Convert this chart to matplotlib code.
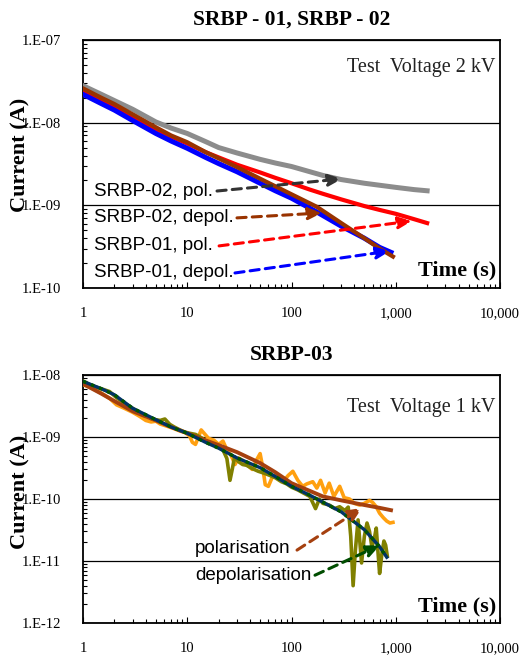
import matplotlib
matplotlib.use("Agg")
import matplotlib.pyplot as plt
import numpy as np

# ---------------- data ----------------
# Top panel (SRBP-01, SRBP-02), test voltage 2 kV
t_gray = [1, 1.5, 2, 3, 5, 7, 10, 15, 20, 30, 50, 70, 100, 150, 200, 300, 500, 700, 1000, 1500, 2000]
i_gray = [2.8e-8, 2.2e-8, 1.85e-8, 1.45e-8, 1.02e-8, 8.6e-9, 7.4e-9, 5.9e-9, 5.0e-9, 4.3e-9, 3.6e-9,
          3.25e-9, 2.95e-9, 2.55e-9, 2.3e-9, 2.05e-9, 1.85e-9, 1.75e-9, 1.65e-9, 1.55e-9, 1.5e-9]

t_red = [1, 1.5, 2, 3, 5, 7, 10, 15, 20, 30, 50, 70, 100, 150, 200, 300, 500, 700, 1000, 1500, 2000]
i_red = [2.4e-8, 1.9e-8, 1.6e-8, 1.2e-8, 8.4e-9, 6.8e-9, 5.6e-9, 4.4e-9, 3.8e-9, 3.1e-9, 2.5e-9,
         2.15e-9, 1.85e-9, 1.55e-9, 1.38e-9, 1.18e-9, 9.8e-10, 8.8e-10, 7.9e-10, 6.8e-10, 6.1e-10]

t_blue = [1, 1.5, 2, 3, 5, 7, 10, 15, 20, 30, 50, 70, 100, 175, 300, 500, 700, 900]
i_blue = [2.2e-8, 1.7e-8, 1.42e-8, 1.06e-8, 7.4e-9, 6.0e-9, 4.9e-9, 3.8e-9, 3.2e-9, 2.55e-9, 1.85e-9,
          1.5e-9, 1.22e-9, 8.3e-10, 5.6e-10, 4.0e-10, 3.1e-10, 2.7e-10]

t_brown = [1, 1.5, 2, 3, 5, 7, 10, 15, 20, 30, 50, 70, 100, 175, 300, 500, 700, 940]
i_brown = [2.6e-8, 2.0e-8, 1.68e-8, 1.26e-8, 8.8e-9, 7.0e-9, 5.8e-9, 4.4e-9, 3.7e-9, 2.9e-9, 2.1e-9,
           1.7e-9, 1.36e-9, 9.6e-10, 6.1e-10, 4.0e-10, 3.0e-10, 2.4e-10]

top_labels = ["SRBP-02, pol.", "SRBP-02, depol.", "SRBP-01, pol.", "SRBP-01, depol."]

# Bottom panel (SRBP-03), test voltage 1 kV
t_pol_fit = [1, 1.5, 2, 3, 5, 7, 10, 15, 20, 30, 50, 70, 100, 150, 200, 300, 500, 700, 900]
i_pol_fit = [7.2e-9, 5.0e-9, 3.8e-9, 2.6e-9, 1.85e-9, 1.45e-9, 1.15e-9, 8.8e-10, 7.4e-10, 5.7e-10,
             3.8e-10, 2.7e-10, 1.8e-10, 1.35e-10, 1.1e-10, 9.5e-11, 8.0e-11, 7.2e-11, 6.6e-11]

t_depol_fit = [1, 1.5, 2, 3, 5, 7, 10, 15, 20, 30, 50, 70, 100, 150, 200, 300, 500, 700, 820]
i_depol_fit = [7.9e-9, 6.0e-9, 4.8e-9, 2.9e-9, 1.9e-9, 1.45e-9, 1.15e-9, 8.2e-10, 6.6e-10, 4.6e-10,
               3.2e-10, 2.3e-10, 1.6e-10, 1.15e-10, 8.9e-11, 6.2e-11, 3.2e-11, 1.7e-11, 1.15e-11]

t_pol_meas = [1, 1.2, 1.5, 1.8, 2.1, 2.5, 3, 3.5, 4, 4.5, 5, 5.5, 6.5, 7.5, 8.5, 9.5, 10.5, 11.2, 12,
              12.8, 13.6, 14.5, 16, 18, 20, 22, 24, 25.7, 27, 28.7, 31, 34, 38, 42, 46, 50, 53, 56,
              60, 65, 70, 78, 85, 93, 103, 115, 128, 140, 160, 175, 190, 210, 230, 255, 290, 320,
              360, 400, 450, 500, 560, 600, 650, 700, 760, 820, 880, 940]
i_pol_meas = [7.0e-9, 6.2e-9, 5.1e-9, 4.2e-9, 3.3e-9, 2.9e-9, 2.5e-9, 2.15e-9, 1.85e-9, 1.75e-9,
              1.8e-9, 1.62e-9, 1.48e-9, 1.36e-9, 1.25e-9, 1.18e-9, 1.05e-9, 8.2e-10, 7.6e-10,
              1.0e-9, 1.3e-9, 1.15e-9, 9.5e-10, 8.9e-10, 7.6e-10, 8.6e-10, 6.2e-10, 5.4e-10,
              4.6e-10, 3.6e-10, 4.6e-10, 4.2e-10, 3.5e-10, 3.0e-10, 4.2e-10, 5.4e-10, 3.2e-10,
              1.7e-10, 1.6e-10, 2.2e-10, 2.4e-10, 2.2e-10, 2.0e-10, 2.4e-10, 2.8e-10, 2.0e-10,
              1.6e-10, 1.75e-10, 1.9e-10, 1.5e-10, 2.0e-10, 1.25e-10, 1.8e-10, 1.1e-10, 1.6e-10,
              1.05e-10, 1.0e-10, 8.5e-11, 8.0e-11, 8.5e-11, 9.5e-11, 8.8e-11, 7.5e-11, 5.9e-11,
              5.0e-11, 4.4e-11, 4.1e-11, 4.2e-11]

t_depol_meas = [1, 1.2, 1.5, 1.8, 2.1, 2.5, 3, 3.5, 4, 4.5, 5, 5.5, 6.1, 6.8, 7.5, 8.5, 9.5, 10.5,
                12, 14, 16, 18, 20, 22, 24, 25.7, 27, 28.5, 31, 34, 37, 42, 48, 55, 62, 70, 80,
                90, 100, 115, 130, 150, 170, 185, 200, 230, 260, 290, 325, 350, 370, 390, 410,
                435, 470, 500, 530, 560, 590, 620, 650, 680, 700, 740, 770, 800, 830]
i_depol_meas = [8.0e-9, 6.8e-9, 6.0e-9, 5.4e-9, 4.3e-9, 3.5e-9, 2.9e-9, 2.5e-9, 2.2e-9, 2.0e-9,
                1.9e-9, 1.85e-9, 1.95e-9, 1.6e-9, 1.45e-9, 1.3e-9, 1.2e-9, 1.15e-9, 1.1e-9,
                9.5e-10, 8.2e-10, 7.4e-10, 6.8e-10, 6.2e-10, 4.5e-10, 2.0e-10, 3.0e-10, 4.8e-10,
                4.0e-10, 3.6e-10, 3.5e-10, 3.1e-10, 2.8e-10, 2.6e-10, 2.4e-10, 2.2e-10, 1.9e-10,
                1.75e-10, 1.55e-10, 1.4e-10, 1.25e-10, 1.1e-10, 7.0e-11, 1.0e-10, 8.5e-11,
                8.0e-11, 7.0e-11, 7.5e-11, 6.5e-11, 7.4e-11, 2.5e-11, 4.0e-12, 1.5e-11, 4.6e-11,
                9.3e-12, 2.5e-11, 4.1e-11, 3.0e-11, 1.7e-11, 2.2e-11, 3.4e-11, 1.2e-11, 6.3e-12,
                1.4e-11, 2.1e-11, 1.8e-11, 1.2e-11]

bottom_labels = ["polarisation", "depolarisation"]

x_ticks = [1, 10, 100, 1000, 10000]
x_ticklabels = ["1", "10", "100", "1,000", "10,000"]
top_yticks = [1e-10, 1e-9, 1e-8, 1e-7]
top_yticklabels = ["1.E-10", "1.E-09", "1.E-08", "1.E-07"]
bot_yticks = [1e-12, 1e-11, 1e-10, 1e-9, 1e-8]
bot_yticklabels = ["1.E-12", "1.E-11", "1.E-10", "1.E-09", "1.E-08"]

# ---------------- figure ----------------
W, H = 525, 657
fig = plt.figure(figsize=(W / 100, H / 100), dpi=100)
SERIF = ["Liberation Serif", "DejaVu Serif"]
SANS = ["Liberation Sans", "DejaVu Sans"]

ax1 = fig.add_axes([83 / W, 1 - 288 / H, 417 / W, 248 / H])
ax2 = fig.add_axes([83 / W, 1 - 623 / H, 417 / W, 248 / H])


def style(ax, yticks, yticklabels, ylim, label_y):
    ax.set_xscale("log")
    ax.set_yscale("log")
    ax.set_xlim(1, 10000)
    ax.set_ylim(*ylim)
    ax.set_xticks(x_ticks)
    ax.set_xticklabels(x_ticklabels, fontfamily=SERIF, fontsize=10.5)
    ax.set_yticks(yticks)
    ax.set_yticklabels(yticklabels, fontfamily=SERIF, fontsize=10.5)
    ax.tick_params(axis="both", which="both", direction="in", length=4, width=0.8)
    ax.tick_params(axis="x", which="major", pad=14)
    ax.tick_params(axis="y", which="major", pad=16, length=0)
    ax.tick_params(axis="both", which="minor", length=3)
    ax.tick_params(axis="x", which="both", top=False)
    ax.tick_params(axis="y", which="both", right=False)
    for s in ax.spines.values():
        s.set_linewidth(1.3)
        s.set_color("black")
    ax.grid(True, which="major", axis="y", color="black", linewidth=0.9)
    ax.set_axisbelow(False)
    ax.set_ylabel("Current (A)", fontfamily=SERIF, fontweight="bold", fontsize=16)
    ax.yaxis.set_label_coords(-0.125, label_y)


style(ax1, top_yticks, top_yticklabels, (1e-10, 1e-7), 0.535)
style(ax2, bot_yticks, bot_yticklabels, (1e-12, 1e-8), 0.53)

# top panel lines
ax1.plot(t_gray, i_gray, color="#8c8c8c", lw=3.6, zorder=3)
ax1.plot(t_red, i_red, color="#ff0000", lw=3.0, zorder=4)
ax1.plot(t_blue, i_blue, color="#0000ff", lw=3.6, zorder=4)
ax1.plot(t_brown, i_brown, color="#993300", lw=3.0, zorder=5)

# top annotations: (text y, tail, head, colour)
top_ann = [
    (1.49e-9, (19.3, 1.49e-9), (305, 2.09e-9), "#333333"),
    (7.05e-10, (30, 7.05e-10), (196, 8.1e-10), "#993300"),
    (3.23e-10, (20.2, 3.23e-10), (1430, 6.47e-10), "#ff0000"),
    (1.52e-10, (28.7, 1.52e-10), (880, 2.8e-10), "#0000ff"),
]
for lab, (ty, tail, head, col) in zip(top_labels, top_ann):
    ax1.text(1.28, ty, lab, fontfamily=SANS, fontsize=13.5, ha="left", va="center", zorder=6)
    ax1.annotate("", xy=head, xytext=tail,
                 arrowprops=dict(arrowstyle="-|>,head_length=0.8,head_width=0.35", color=col,
                                 lw=2.2, linestyle=(0, (3, 2)), shrinkA=0, shrinkB=0), zorder=6)

ax1.text(0.99, 0.89, "Test  Voltage 2 kV", transform=ax1.transAxes, ha="right", va="center",
         fontfamily=SERIF, fontsize=14.5, color="#222222")
ax1.text(0.99, 0.07, "Time (s)", transform=ax1.transAxes, ha="right", va="center",
         fontfamily=SERIF, fontweight="bold", fontsize=16)
ax1.set_title("SRBP - 01, SRBP - 02", fontfamily=SERIF, fontweight="bold", fontsize=15.5, pad=11)

# bottom panel lines
ax2.plot(t_pol_meas, i_pol_meas, color="#ffa010", lw=2.6, zorder=3)
ax2.plot(t_depol_meas, i_depol_meas, color="#808000", lw=2.6, zorder=3)
ax2.plot(t_pol_fit, i_pol_fit, color="#a5400f", lw=2.8, zorder=4)
ax2.plot(t_depol_fit, i_depol_fit, color="#003366", lw=2.4, zorder=4)
ax2.plot(t_depol_fit, i_depol_fit, color="#005500", lw=2.4, linestyle=(0, (1, 1.6)), zorder=5)

bot_ann = [
    (1.6e-11, (113, 1.5e-11), (475, 7.2e-11), "#a5400f"),
    (5.9e-12, (168, 5.9e-12), (706, 1.8e-11), "#004d00"),
]
for lab, (ty, tail, head, col) in zip(bottom_labels, bot_ann):
    ax2.text(11.9, ty, lab, fontfamily=SANS, fontsize=13.5, ha="left", va="center", zorder=6)
    ax2.annotate("", xy=head, xytext=tail,
                 arrowprops=dict(arrowstyle="-|>,head_length=0.8,head_width=0.35", color=col,
                                 lw=2.2, linestyle=(0, (3, 2)), shrinkA=0, shrinkB=0), zorder=6)

ax2.text(0.99, 0.87, "Test  Voltage 1 kV", transform=ax2.transAxes, ha="right", va="center",
         fontfamily=SERIF, fontsize=14.5, color="#222222")
ax2.text(0.99, 0.065, "Time (s)", transform=ax2.transAxes, ha="right", va="center",
         fontfamily=SERIF, fontweight="bold", fontsize=16)
ax2.set_title("SRBP-03", fontfamily=SERIF, fontweight="bold", fontsize=15.5, pad=11)

fig.savefig("out.png", dpi=100)
